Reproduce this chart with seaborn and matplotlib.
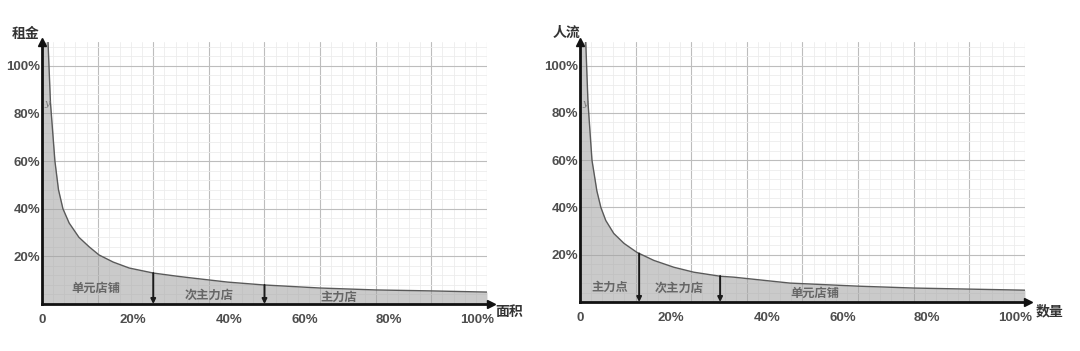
import numpy as np
import pandas as pd
import matplotlib
matplotlib.use("Agg")
import matplotlib.pyplot as plt
import seaborn as sns

# ---- data ----
# left panel: rent vs. floor area
rent_x = [0.0135, 0.019, 0.029, 0.037, 0.047, 0.061, 0.083, 0.106, 0.128,
          0.160, 0.196, 0.250, 0.302, 0.333, 0.417, 0.498, 0.626, 0.750, 0.874, 1.0]
rent_y = [1.10, 0.845, 0.60, 0.48, 0.40, 0.34, 0.28, 0.24, 0.206,
          0.176, 0.151, 0.130, 0.117, 0.110, 0.092, 0.080, 0.067, 0.059, 0.055, 0.050]
rent_split_x = [0.25, 0.50]
rent_split_y = [0.13, 0.08]
rent_regions = ["单元店铺", "次主力店", "主力店"]

# right panel: footfall vs. number of shops
flow_x = [0.013, 0.018, 0.027, 0.038, 0.047, 0.058, 0.076, 0.099, 0.128,
          0.166, 0.211, 0.256, 0.315, 0.346, 0.472, 0.625, 0.751, 1.0]
flow_y = [1.10, 0.845, 0.60, 0.47, 0.40, 0.345, 0.29, 0.248, 0.21,
          0.176, 0.147, 0.126, 0.109, 0.105, 0.080, 0.067, 0.059, 0.050]
flow_split_x = [0.133, 0.315]
flow_split_y = [0.205, 0.11]
flow_regions = ["主力点", "次主力店", "单元店铺"]

# the percent labels sit a little off the grid in the original drawing
xtick_pos = [0, 0.205, 0.42, 0.59, 0.78, 0.977]
xtick_labels = ["0", "20%", "40%", "60%", "80%", "100%"]
ytick_vals = [0.2, 0.4, 0.6, 0.8, 1.0]
ytick_labels = ["20%", "40%", "60%", "80%", "100%"]

sns.set_theme(style="white")
plt.rcParams['font.family'] = ['Noto Sans CJK SC', 'DejaVu Sans']

LATIN = ['Liberation Sans', 'DejaVu Sans']
CJK = ['Noto Sans CJK SC', 'DejaVu Sans']
YTOP = 1.1

fig = plt.figure(figsize=(10.8, 3.51), dpi=100)
ax_left = fig.add_axes([0.0389, 0.1339, 0.4120, 0.7464])
ax_right = fig.add_axes([0.5370, 0.1396, 0.4120, 0.7407])


def draw_panel(ax, cx, cy, sx, sy, regions, region_pos, yname, xname, yname_pos, xname_pos):
    df = pd.DataFrame({"x": cx, "y": cy})
    ax.set_xlim(0, 1.0)
    ax.set_ylim(0, YTOP)

    # grid
    ax.set_axisbelow(True)
    ax.set_xticks(np.arange(0, 1.0001, 0.125))
    ax.set_xticks(np.arange(0, 1.0001, 0.025), minor=True)
    ax.set_yticks(ytick_vals, ytick_labels)
    ax.set_yticks(np.arange(0, YTOP, 0.04), minor=True)
    ax.grid(which="major", color="#bdbdbd", linewidth=0.8)
    ax.grid(which="minor", color="#ececec", linewidth=0.6)
    ax.tick_params(axis="x", which="both", length=0, labelbottom=False)
    ax.tick_params(axis="y", which="both", length=0, pad=1, labelsize=9.5,
                   labelcolor="#4d4d4d")
    for lab in ax.get_yticklabels():
        lab.set_fontfamily(LATIN)
        lab.set_fontweight("bold")

    # shaded area under the curve (also the sliver left of it at the top)
    ax.fill_between([0.0] + list(cx), [YTOP] + list(cy), 0,
                    color="#a0a0a0", alpha=0.55, linewidth=0)
    sns.lineplot(data=df, x="x", y="y", ax=ax, color="#5a5a5a", linewidth=1.0)
    ax.set_xlabel("")
    ax.set_ylabel("")

    # split arrows
    for x0, y0 in zip(sx, sy):
        ax.annotate("", xy=(x0, 0.0), xytext=(x0, y0),
                    arrowprops=dict(arrowstyle="-|>", color="#1a1a1a", lw=1.4,
                                    mutation_scale=7, shrinkA=0, shrinkB=0))

    # region labels
    for txt, (px, py) in zip(regions, region_pos):
        ax.text(px, py, txt, ha="center", va="center", fontsize=8.8,
                color="#666666", family=CJK, fontweight="bold")

    # x tick labels
    for v, t in zip(xtick_pos, xtick_labels):
        ax.text(v, -0.06, t, transform=ax.get_xaxis_transform(), ha="center",
                va="center", fontsize=9.5, color="#4d4d4d", family=LATIN,
                fontweight="bold")

    # little "y" tag
    ax.text(0.012, 0.84, "y", fontsize=7, color="#777777", style="italic",
            family=['DejaVu Serif'], ha="center", va="center")

    # axes with arrow heads
    sns.despine(ax=ax)
    for side in ["left", "bottom"]:
        ax.spines[side].set_color("#111111")
        ax.spines[side].set_linewidth(2)
    ax.plot([0], [1.0], marker="^", markersize=6, color="#111111",
            transform=ax.transAxes, clip_on=False)
    ax.plot([1.008], [0], marker=">", markersize=6, color="#111111",
            transform=ax.transAxes, clip_on=False)

    # axis names
    ax.text(*yname_pos, yname, transform=ax.transAxes, ha="center", va="center",
            fontsize=10, fontweight="bold", color="#333333", family=CJK)
    ax.text(*xname_pos, xname, transform=ax.transAxes, ha="center", va="center",
            fontsize=10, fontweight="bold", color="#333333", family=CJK)


draw_panel(ax_left, rent_x, rent_y, rent_split_x, rent_split_y, rent_regions,
           [(0.122, 0.067), (0.376, 0.038), (0.667, 0.029)],
           "租金", "面积", (-0.036, 1.03), (1.05, -0.03))
draw_panel(ax_right, flow_x, flow_y, flow_split_x, flow_split_y, flow_regions,
           [(0.067, 0.063), (0.222, 0.059), (0.528, 0.038)],
           "人流", "数量", (-0.031, 1.035), (1.055, -0.035))

fig.savefig("out.png", dpi=100)
